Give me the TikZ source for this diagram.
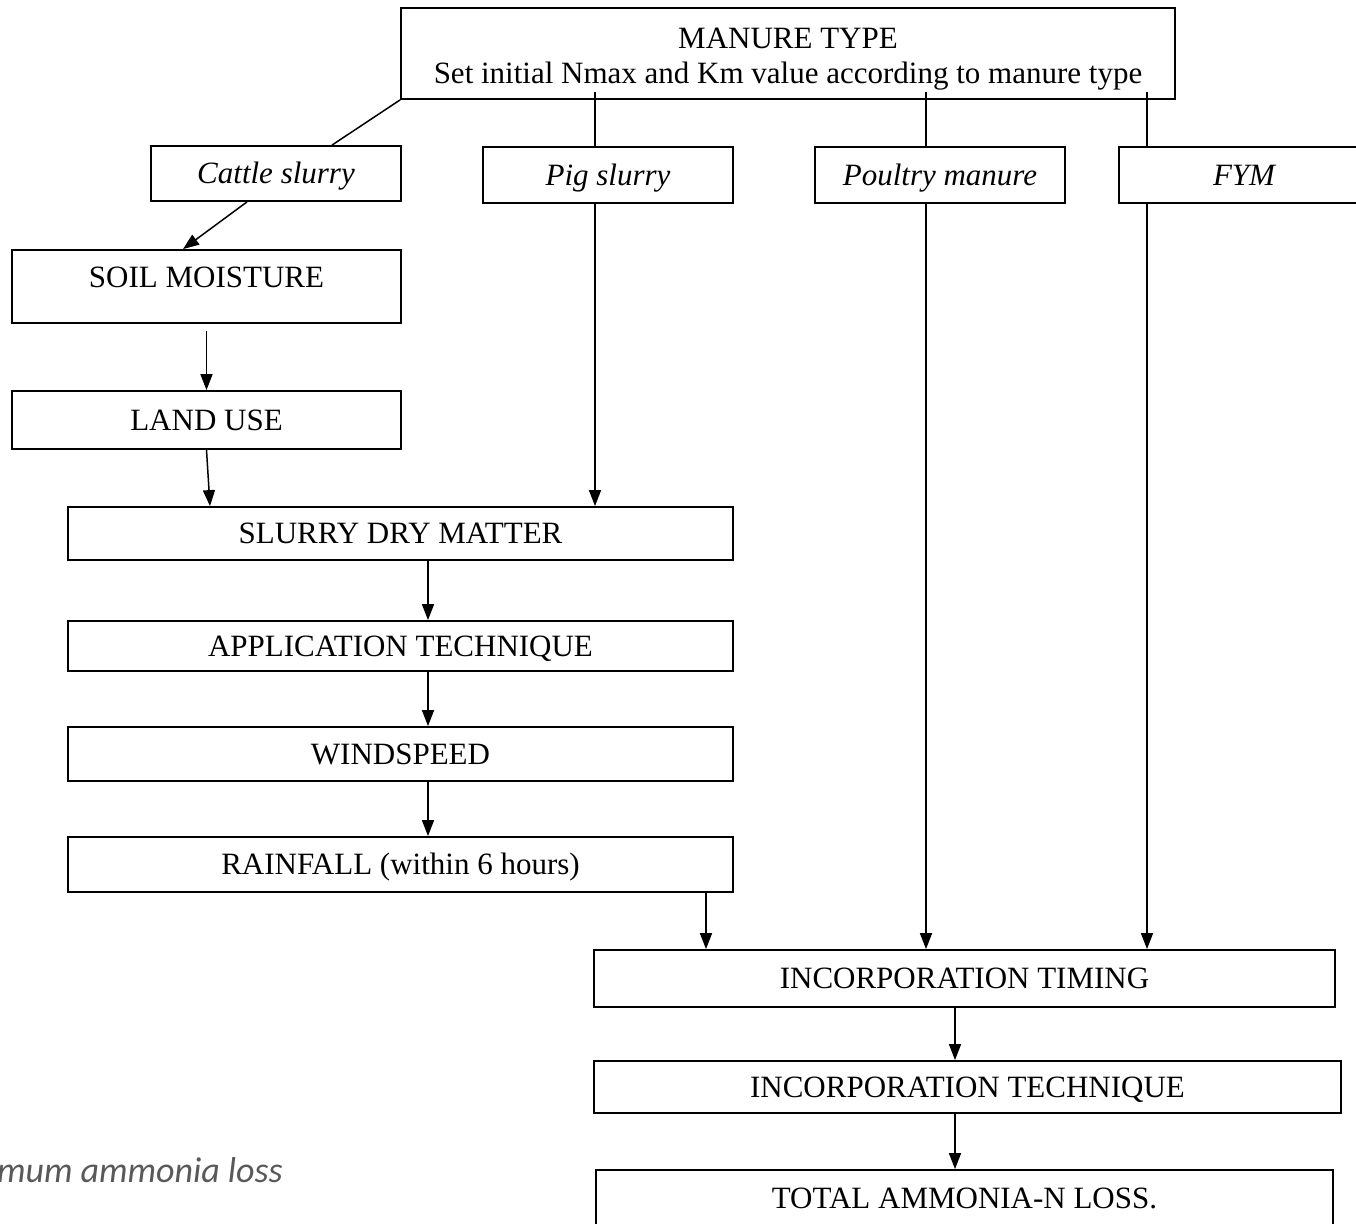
\documentclass[tikz,border=0pt]{standalone}
\usepackage{fontspec}
\setmainfont{Liberation Serif}
\newfontfamily\notefont{Carlito}
\usepackage{tikz}
\usetikzlibrary{arrows.meta}
\definecolor{notegray}{HTML}{595959}

\tikzset{
    box/.style={draw, line width=1.8pt, rectangle, inner sep=0pt, font=\fontsize{31}{35}\selectfont},
    tbox/.style={box, text height=20pt, text depth=0pt},
    link/.style={line width=1.5pt},
    arr/.style={link, ->, >={Triangle[length=16pt,width=12pt]}},
}

\begin{document}
\begin{tikzpicture}[x=1pt, y=-1pt]
        \useasboundingbox (0,0) rectangle (1356,1223);

        \node[box, align=center, text height=75pt, text depth=16pt, minimum width=774pt] (manure) at (788,53.5) {MANURE TYPE\\Set initial Nmax and Km value according to manure type};

        \node[tbox, minimum width=250pt, minimum height=55pt] (cattle) at (276,173.5) {\itshape Cattle slurry};
        \node[tbox, minimum width=250pt, minimum height=56pt] (pig) at (608,175) {\itshape Pig slurry};
        \node[tbox, minimum width=250pt, minimum height=56pt] (poultry) at (940,175) {\itshape Poultry manure};
        \node[tbox, minimum width=250pt, minimum height=56pt] (fym) at (1244,175) {\itshape FYM};

        \node[box, text height=37pt, text depth=36pt, minimum width=389pt] (soil) at (206.5,286.5) {SOIL MOISTURE};
        \node[tbox, minimum width=389pt, minimum height=58pt] (landuse) at (206.5,420) {LAND USE};

        \node[tbox, minimum width=665pt, minimum height=53pt] (drymatter) at (400.5,533.5) {SLURRY DRY MATTER};
        \node[tbox, minimum width=665pt, minimum height=50pt] (applic) at (400.5,646) {APPLICATION TECHNIQUE};
        \node[tbox, minimum width=665pt, minimum height=54pt] (wind) at (400.5,754) {WINDSPEED};
        \node[tbox, minimum width=665pt, minimum height=55pt] (rain) at (400.5,864.5) {RAINFALL (within 6 hours)};

        \node[tbox, minimum width=741pt, minimum height=57pt] (timing) at (964.5,978.5) {INCORPORATION TIMING};
        \node[tbox, minimum width=747pt, minimum height=52pt] (inctech) at (967.5,1087) {INCORPORATION TECHNIQUE};
        \node[tbox, minimum width=737pt, minimum height=56pt] (total) at (964.5,1198) {TOTAL AMMONIA-N LOSS.};

        \node[anchor=base east, text=notegray, inner sep=0pt, font=\notefont\itshape\fontsize{36}{40}\selectfont] (note) at (283,1182) {mum ammonia loss};

        \draw[link] (manure.south west) -- (cattle.north -| 332,0);
        \draw[link, shorten <=-8pt] (manure.south -| 595,0) -- (pig.north -| 595,0);
        \draw[link, shorten <=-8pt] (manure.south -| 926,0) -- (poultry.north -| 926,0);
        \draw[link, shorten <=-8pt] (manure.south -| 1147,0) -- (fym.north -| 1147,0);

        \draw[arr] (cattle.south -| 247,0) -- (soil.north -| 183,0);
        \draw[arr, shorten <=7pt] (soil.south) -- (landuse.north);
        \draw[arr] (landuse.south) -- (drymatter.north -| 210,0);
        \draw[arr] (pig.south -| 595,0) -- (drymatter.north -| 595,0);

        \draw[arr] (drymatter.south -| 428,0) -- (applic.north -| 428,0);
        \draw[arr] (applic.south -| 428,0) -- (wind.north -| 428,0);
        \draw[arr] (wind.south -| 428,0) -- (rain.north -| 428,0);

        \draw[arr] (rain.south -| 706,0) -- (timing.north -| 706,0);
        \draw[arr] (poultry.south -| 926,0) -- (timing.north -| 926,0);
        \draw[arr] (fym.south -| 1147,0) -- (timing.north -| 1147,0);

        \draw[arr] (timing.south -| 955,0) -- (inctech.north -| 955,0);
        \draw[arr] (inctech.south -| 955,0) -- (total.north -| 955,0);
\end{tikzpicture}
\end{document}
